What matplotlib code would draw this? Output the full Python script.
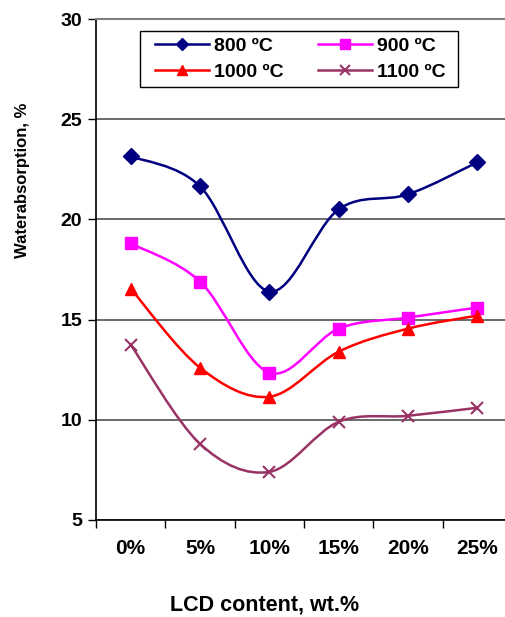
import numpy as np
import matplotlib
matplotlib.use("Agg")
import matplotlib.pyplot as plt
from matplotlib.path import Path
from matplotlib.patches import PathPatch, Rectangle

plt.rcParams['font.family'] = ['Liberation Sans', 'DejaVu Sans']
plt.rcParams['font.weight'] = 'bold'

# data
categories = ['0%', '5%', '10%', '15%', '20%', '25%']
t800 = [23.15, 21.65, 16.4, 20.5, 21.25, 22.85]
t900 = [18.8, 16.9, 12.35, 14.55, 15.1, 15.6]
t1000 = [16.55, 12.6, 11.15, 13.4, 14.55, 15.2]
t1100 = [13.75, 8.8, 7.4, 9.9, 10.2, 10.6]

series = [
    ('800 ºC', t800, '#000080', 'D', 8),
    ('900 ºC', t900, '#FF00FF', 's', 9),
    ('1000 ºC', t1000, '#FF0000', '^', 9),
    ('1100 ºC', t1100, '#993366', 'x', 9),
]


def smooth_path(x, y):
    # Excel-style smoothed line: bezier segments through every point
    pts = np.column_stack([x, y]).astype(float)
    n = len(pts)
    verts = [pts[0]]
    codes = [Path.MOVETO]
    for i in range(n - 1):
        p0 = pts[max(i - 1, 0)]
        p1 = pts[i]
        p2 = pts[i + 1]
        p3 = pts[min(i + 2, n - 1)]
        c1 = p1 + (p2 - p0) / 6.0
        c2 = p2 - (p3 - p1) / 6.0
        verts += [c1, c2, p2]
        codes += [Path.CURVE4] * 3
    return Path(verts, codes)


W, H = 506, 617
fig = plt.figure(figsize=(W / 100, H / 100), dpi=100)
ax = fig.add_axes([96 / W, 97 / H, 416 / W, 501 / H])

x = np.arange(len(categories))
handles = []
for label, vals, color, marker, ms in series:
    ax.add_patch(PathPatch(smooth_path(x, vals), facecolor='none',
                           edgecolor=color, lw=1.8, zorder=3))
    mew = 1.5 if marker == 'x' else 1
    ax.plot(x, vals, linestyle='none', marker=marker, color=color,
            markersize=ms, markeredgewidth=mew, zorder=4)
    h, = ax.plot([], [], color=color, lw=1.8, marker=marker,
                 markersize=ms * 0.8, markeredgewidth=mew, label=label)
    handles.append(h)

ax.set_xlim(-0.5, len(categories) - 0.5)
ax.set_ylim(5, 30)
ax.set_yticks([5, 10, 15, 20, 25, 30])
ax.set_xticks(x)
ax.set_xticklabels(categories)
ax.set_xticks(np.arange(-0.5, len(categories)), minor=True)
ax.tick_params(axis='x', which='major', length=0, pad=14, labelsize=15)
ax.tick_params(axis='x', which='minor', length=6, direction='out', width=1)
ax.tick_params(axis='y', length=6, direction='out', width=1, labelsize=14, pad=4)
for lab in ax.get_xticklabels() + ax.get_yticklabels():
    lab.set_fontweight('bold')

ax.grid(axis='y', color='#505050', lw=1.2)
ax.set_axisbelow(True)
ax.spines['top'].set_color('#808080')
ax.spines['top'].set_linewidth(1.5)
ax.spines['right'].set_visible(False)
ax.spines['left'].set_linewidth(1.2)
ax.spines['bottom'].set_linewidth(1.2)

# axis titles placed where the original chart has them
fig.text(265 / W, 1 - 605 / H, 'LCD content, wt.%', ha='center', va='center',
         fontsize=15.5, fontweight='bold')
fig.text(23 / W, 1 - 180 / H, 'Waterabsorption, %', rotation=90,
         ha='center', va='center', fontsize=12, fontweight='bold')

# legend: rows 800/900 then 1000/1100
order = [handles[0], handles[2], handles[1], handles[3]]
leg = fig.legend(handles=order, ncol=2, loc='center left',
                 bbox_to_anchor=(155 / W, 1 - 59 / H),
                 frameon=False, fontsize=14, handlelength=2.8,
                 columnspacing=1.75, borderpad=0, borderaxespad=0,
                 labelspacing=0.45, handletextpad=0.25)
for t in leg.get_texts():
    t.set_fontweight('bold')
fig.add_artist(Rectangle((140 / W, 1 - 87 / H), 318 / W, 56 / H,
                         transform=fig.transFigure, facecolor='white',
                         edgecolor='black', lw=1.0, zorder=1))
leg.set_zorder(5)

fig.savefig('out.png', dpi=100)
